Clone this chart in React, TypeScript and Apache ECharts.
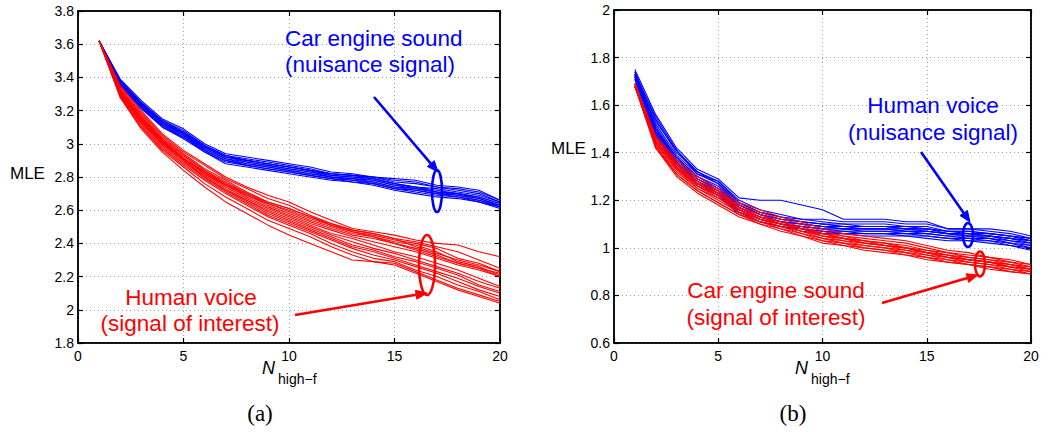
import React, { useEffect, useRef } from "react";
import * as echarts from "echarts";

// x values (N_high-f)
const N = [1, 2, 3, 4, 5, 6, 7, 8, 9, 10, 11, 12, 13, 14, 15, 16, 17, 18, 19, 20];

// Panel (a): car engine sound (nuisance) - blue
const blueA: number[][] = [
  [3.62, 3.39, 3.26, 3.15, 3.09, 3.0, 2.94, 2.92, 2.9, 2.88, 2.86, 2.83, 2.82, 2.8, 2.78, 2.77, 2.74, 2.73, 2.71, 2.66],
  [3.62, 3.38, 3.25, 3.14, 3.08, 2.99, 2.93, 2.91, 2.89, 2.87, 2.85, 2.82, 2.81, 2.8, 2.77, 2.76, 2.74, 2.72, 2.7, 2.65],
  [3.62, 3.38, 3.25, 3.14, 3.07, 2.99, 2.93, 2.9, 2.88, 2.86, 2.84, 2.82, 2.81, 2.79, 2.76, 2.74, 2.73, 2.71, 2.69, 2.65],
  [3.62, 3.37, 3.24, 3.13, 3.07, 2.98, 2.92, 2.9, 2.88, 2.86, 2.84, 2.81, 2.8, 2.79, 2.76, 2.74, 2.72, 2.7, 2.68, 2.64],
  [3.62, 3.37, 3.24, 3.13, 3.06, 2.98, 2.92, 2.89, 2.87, 2.85, 2.83, 2.81, 2.8, 2.78, 2.75, 2.74, 2.71, 2.7, 2.68, 2.64],
  [3.62, 3.37, 3.23, 3.12, 3.06, 2.97, 2.91, 2.89, 2.87, 2.85, 2.83, 2.8, 2.79, 2.78, 2.75, 2.73, 2.71, 2.7, 2.67, 2.63],
  [3.62, 3.36, 3.23, 3.12, 3.05, 2.97, 2.91, 2.88, 2.86, 2.84, 2.82, 2.8, 2.79, 2.77, 2.74, 2.73, 2.71, 2.69, 2.67, 2.63],
  [3.62, 3.36, 3.23, 3.11, 3.05, 2.96, 2.9, 2.88, 2.86, 2.84, 2.82, 2.8, 2.78, 2.77, 2.74, 2.72, 2.7, 2.69, 2.66, 2.63],
  [3.62, 3.36, 3.22, 3.11, 3.04, 2.96, 2.9, 2.87, 2.85, 2.83, 2.81, 2.79, 2.78, 2.76, 2.73, 2.72, 2.7, 2.68, 2.66, 2.62],
  [3.62, 3.35, 3.22, 3.1, 3.04, 2.95, 2.89, 2.87, 2.85, 2.83, 2.81, 2.79, 2.77, 2.76, 2.73, 2.71, 2.69, 2.68, 2.65, 2.62],
  [3.62, 3.35, 3.21, 3.1, 3.03, 2.95, 2.88, 2.86, 2.84, 2.82, 2.8, 2.78, 2.77, 2.75, 2.72, 2.7, 2.68, 2.67, 2.65, 2.61],
  [3.62, 3.37, 3.24, 3.13, 3.06, 2.98, 2.92, 2.9, 2.88, 2.86, 2.84, 2.82, 2.81, 2.8, 2.79, 2.78, 2.75, 2.74, 2.72, 2.66],
];

// Panel (a): human voice (signal of interest) - red
const redA: number[][] = [
  [3.62, 3.35, 3.2, 3.06, 2.96, 2.88, 2.8, 2.74, 2.69, 2.65, 2.59, 2.54, 2.49, 2.47, 2.45, 2.42, 2.4, 2.39, 2.35, 2.32],
  [3.62, 3.34, 3.19, 3.05, 2.95, 2.87, 2.79, 2.73, 2.67, 2.63, 2.57, 2.52, 2.48, 2.46, 2.43, 2.41, 2.38, 2.35, 2.3, 2.25],
  [3.62, 3.33, 3.18, 3.04, 2.94, 2.85, 2.78, 2.71, 2.65, 2.61, 2.56, 2.51, 2.47, 2.45, 2.42, 2.4, 2.37, 2.31, 2.28, 2.23],
  [3.62, 3.33, 3.17, 3.03, 2.93, 2.84, 2.77, 2.7, 2.64, 2.59, 2.54, 2.5, 2.46, 2.44, 2.41, 2.39, 2.35, 2.29, 2.26, 2.21],
  [3.62, 3.32, 3.16, 3.03, 2.93, 2.84, 2.76, 2.69, 2.63, 2.58, 2.53, 2.49, 2.45, 2.43, 2.4, 2.37, 2.33, 2.28, 2.25, 2.2],
  [3.62, 3.32, 3.16, 3.02, 2.92, 2.83, 2.75, 2.68, 2.62, 2.57, 2.52, 2.48, 2.44, 2.41, 2.38, 2.35, 2.31, 2.27, 2.24, 2.2],
  [3.62, 3.31, 3.15, 3.01, 2.91, 2.82, 2.74, 2.67, 2.61, 2.56, 2.51, 2.46, 2.43, 2.39, 2.35, 2.32, 2.28, 2.24, 2.19, 2.14],
  [3.62, 3.31, 3.14, 3.0, 2.9, 2.81, 2.73, 2.66, 2.6, 2.55, 2.5, 2.45, 2.41, 2.37, 2.34, 2.3, 2.26, 2.22, 2.17, 2.13],
  [3.62, 3.3, 3.13, 3.0, 2.9, 2.8, 2.72, 2.66, 2.59, 2.54, 2.49, 2.44, 2.39, 2.36, 2.32, 2.29, 2.25, 2.21, 2.15, 2.11],
  [3.62, 3.3, 3.13, 2.99, 2.89, 2.8, 2.72, 2.65, 2.58, 2.53, 2.48, 2.43, 2.38, 2.35, 2.31, 2.27, 2.23, 2.19, 2.14, 2.1],
  [3.62, 3.29, 3.12, 2.98, 2.88, 2.79, 2.71, 2.64, 2.57, 2.52, 2.47, 2.42, 2.37, 2.33, 2.3, 2.26, 2.22, 2.17, 2.12, 2.08],
  [3.62, 3.29, 3.11, 2.97, 2.87, 2.78, 2.7, 2.63, 2.56, 2.51, 2.46, 2.4, 2.35, 2.31, 2.29, 2.24, 2.2, 2.15, 2.11, 2.06],
  [3.62, 3.28, 3.1, 2.96, 2.86, 2.76, 2.68, 2.61, 2.54, 2.49, 2.44, 2.38, 2.33, 2.29, 2.27, 2.22, 2.17, 2.12, 2.08, 2.04],
  [3.62, 3.28, 3.09, 2.95, 2.84, 2.74, 2.65, 2.58, 2.51, 2.45, 2.4, 2.35, 2.3, 2.29, 2.28, 2.23, 2.18, 2.13, 2.09, 2.05],
  [3.62, 3.3, 3.14, 3.01, 2.91, 2.82, 2.75, 2.69, 2.64, 2.6, 2.55, 2.51, 2.47, 2.44, 2.4, 2.36, 2.32, 2.28, 2.25, 2.22],
  [3.62, 3.31, 3.15, 3.02, 2.91, 2.83, 2.76, 2.7, 2.65, 2.61, 2.56, 2.52, 2.48, 2.46, 2.43, 2.38, 2.34, 2.3, 2.27, 2.23],
];

// Panel (b): human voice (nuisance) - blue
const blueB: number[][] = [
  [1.75, 1.56, 1.42, 1.33, 1.29, 1.21, 1.2, 1.2, 1.18, 1.16, 1.12, 1.12, 1.12, 1.11, 1.11, 1.08, 1.08, 1.08, 1.07, 1.05],
  [1.74, 1.54, 1.4, 1.32, 1.28, 1.2, 1.16, 1.14, 1.12, 1.12, 1.11, 1.11, 1.11, 1.1, 1.1, 1.08, 1.08, 1.07, 1.06, 1.04],
  [1.74, 1.52, 1.39, 1.31, 1.27, 1.19, 1.15, 1.13, 1.12, 1.11, 1.1, 1.1, 1.1, 1.09, 1.09, 1.07, 1.07, 1.06, 1.05, 1.04],
  [1.73, 1.51, 1.38, 1.3, 1.26, 1.18, 1.14, 1.12, 1.11, 1.1, 1.1, 1.09, 1.09, 1.09, 1.08, 1.07, 1.06, 1.06, 1.05, 1.03],
  [1.73, 1.5, 1.38, 1.3, 1.25, 1.18, 1.14, 1.12, 1.11, 1.1, 1.09, 1.09, 1.09, 1.08, 1.08, 1.06, 1.06, 1.05, 1.04, 1.03],
  [1.73, 1.5, 1.37, 1.29, 1.25, 1.17, 1.13, 1.11, 1.1, 1.09, 1.09, 1.08, 1.08, 1.08, 1.07, 1.06, 1.06, 1.05, 1.04, 1.02],
  [1.72, 1.49, 1.37, 1.29, 1.24, 1.17, 1.13, 1.11, 1.1, 1.09, 1.08, 1.08, 1.08, 1.07, 1.07, 1.06, 1.05, 1.05, 1.03, 1.02],
  [1.72, 1.49, 1.36, 1.28, 1.24, 1.16, 1.12, 1.1, 1.09, 1.08, 1.08, 1.07, 1.07, 1.07, 1.06, 1.05, 1.05, 1.04, 1.03, 1.01],
  [1.72, 1.48, 1.36, 1.28, 1.23, 1.16, 1.12, 1.1, 1.09, 1.08, 1.07, 1.07, 1.07, 1.06, 1.06, 1.05, 1.04, 1.04, 1.02, 1.01],
  [1.72, 1.48, 1.35, 1.27, 1.23, 1.15, 1.12, 1.1, 1.08, 1.07, 1.07, 1.06, 1.06, 1.06, 1.05, 1.04, 1.04, 1.03, 1.02, 1.0],
  [1.71, 1.47, 1.35, 1.27, 1.22, 1.15, 1.11, 1.09, 1.08, 1.07, 1.06, 1.06, 1.06, 1.05, 1.05, 1.04, 1.03, 1.03, 1.01, 1.0],
  [1.71, 1.47, 1.34, 1.26, 1.22, 1.14, 1.11, 1.09, 1.07, 1.06, 1.06, 1.05, 1.05, 1.05, 1.04, 1.03, 1.03, 1.02, 1.01, 0.99],
  [1.72, 1.53, 1.41, 1.31, 1.28, 1.19, 1.15, 1.13, 1.11, 1.1, 1.09, 1.09, 1.09, 1.08, 1.08, 1.07, 1.07, 1.06, 1.05, 1.03],
  [1.73, 1.55, 1.41, 1.32, 1.27, 1.18, 1.14, 1.11, 1.1, 1.09, 1.08, 1.08, 1.08, 1.07, 1.07, 1.06, 1.05, 1.05, 1.04, 1.03],
];

// Panel (b): car engine sound (signal of interest) - red
const redB: number[][] = [
  [1.69, 1.47, 1.37, 1.3, 1.25, 1.19, 1.16, 1.13, 1.11, 1.08, 1.06, 1.05, 1.04, 1.03, 1.01, 0.99, 0.98, 0.96, 0.95, 0.93],
  [1.69, 1.46, 1.36, 1.29, 1.24, 1.18, 1.15, 1.12, 1.1, 1.07, 1.05, 1.04, 1.03, 1.02, 1.0, 0.98, 0.97, 0.96, 0.94, 0.93],
  [1.69, 1.46, 1.35, 1.28, 1.23, 1.17, 1.14, 1.11, 1.09, 1.06, 1.05, 1.03, 1.02, 1.01, 0.99, 0.98, 0.96, 0.95, 0.94, 0.92],
  [1.69, 1.45, 1.35, 1.27, 1.23, 1.17, 1.13, 1.11, 1.08, 1.06, 1.04, 1.03, 1.02, 1.0, 0.99, 0.97, 0.96, 0.95, 0.93, 0.92],
  [1.68, 1.45, 1.34, 1.27, 1.22, 1.16, 1.13, 1.1, 1.08, 1.05, 1.04, 1.02, 1.01, 1.0, 0.98, 0.97, 0.95, 0.94, 0.93, 0.91],
  [1.68, 1.44, 1.33, 1.26, 1.21, 1.16, 1.12, 1.1, 1.07, 1.05, 1.03, 1.02, 1.01, 0.99, 0.98, 0.96, 0.95, 0.94, 0.92, 0.91],
  [1.68, 1.44, 1.33, 1.25, 1.21, 1.15, 1.12, 1.09, 1.07, 1.04, 1.03, 1.01, 1.0, 0.99, 0.97, 0.96, 0.94, 0.93, 0.92, 0.9],
  [1.68, 1.43, 1.32, 1.25, 1.2, 1.15, 1.11, 1.09, 1.06, 1.04, 1.02, 1.01, 1.0, 0.98, 0.97, 0.95, 0.94, 0.93, 0.91, 0.9],
  [1.68, 1.43, 1.31, 1.24, 1.19, 1.14, 1.11, 1.08, 1.06, 1.03, 1.02, 1.0, 0.99, 0.98, 0.96, 0.95, 0.93, 0.92, 0.91, 0.89],
  [1.68, 1.42, 1.31, 1.24, 1.19, 1.14, 1.1, 1.08, 1.05, 1.03, 1.01, 1.0, 0.99, 0.97, 0.96, 0.94, 0.93, 0.92, 0.9, 0.89],
  [1.68, 1.42, 1.3, 1.23, 1.18, 1.13, 1.1, 1.07, 1.05, 1.02, 1.01, 0.99, 0.98, 0.97, 0.95, 0.94, 0.93, 0.91, 0.9, 0.89],
  [1.69, 1.45, 1.34, 1.26, 1.22, 1.16, 1.12, 1.1, 1.08, 1.05, 1.04, 1.02, 1.01, 1.0, 0.98, 0.96, 0.95, 0.94, 0.93, 0.91],
  [1.69, 1.44, 1.33, 1.27, 1.24, 1.17, 1.13, 1.1, 1.08, 1.06, 1.04, 1.03, 1.01, 1.0, 0.98, 0.97, 0.95, 0.94, 0.92, 0.91],
];

const X_TICKS = { min: 0, max: 20, interval: 5 };
const Y_A = { min: 1.8, max: 3.8, interval: 0.2 };
const Y_B = { min: 0.6, max: 2.0, interval: 0.2 };

const BLUE = "#0000ff";
const RED = "#ff0000";
const SANS = "'Liberation Sans', Arial, Helvetica, sans-serif";
const SERIF = "'Liberation Serif', 'Times New Roman', serif";

function fmt(v: number) {
  return String(Math.round(v * 10) / 10);
}

function xAxes(grid: number) {
  const common = {
    gridIndex: grid,
    type: "value" as const,
    ...X_TICKS,
    axisLine: { show: true, onZero: false, lineStyle: { color: "#000", width: 1.5 } },
    axisTick: { show: true, inside: true, length: 5, lineStyle: { color: "#000", width: 1.2 } },
  };
  return [
    {
      ...common,
      position: "bottom",
      axisLabel: { color: "#000", fontSize: 14, fontFamily: SANS, margin: 6, formatter: fmt },
      splitLine: { show: true, lineStyle: { color: "#a0a0a0", type: [1, 3], width: 1 } },
    },
    { ...common, position: "top", axisLabel: { show: false }, splitLine: { show: false } },
  ];
}

function yAxes(grid: number, range: { min: number; max: number; interval: number }) {
  const common = {
    gridIndex: grid,
    type: "value" as const,
    ...range,
    axisLine: { show: true, onZero: false, lineStyle: { color: "#000", width: 1.5 } },
    axisTick: { show: true, inside: true, length: 5, lineStyle: { color: "#000", width: 1.2 } },
  };
  return [
    {
      ...common,
      position: "left",
      axisLabel: { color: "#000", fontSize: 14, fontFamily: SANS, margin: 4, formatter: fmt },
      splitLine: { show: true, lineStyle: { color: "#a0a0a0", type: [1, 3], width: 1 } },
    },
    { ...common, position: "right", axisLabel: { show: false }, splitLine: { show: false } },
  ];
}

function lines(curves: number[][], color: string, axisIdx: number) {
  return curves.map((c) => ({
    type: "line",
    xAxisIndex: axisIdx,
    yAxisIndex: axisIdx,
    data: N.map((n, i) => [n, c[i]]),
    symbol: "none",
    silent: true,
    lineStyle: { width: 1.1, color },
    z: 2,
  }));
}

function txt(x: number, y: number, text: string, color: string, size: number, align = "left", extra: any = {}) {
  return {
    type: "text",
    x,
    y,
    z: 100,
    silent: true,
    style: {
      text,
      fill: color,
      fontSize: size,
      fontFamily: SANS,
      align,
      textAlign: align,
      verticalAlign: "middle",
      textVerticalAlign: "middle",
      ...extra,
    },
  };
}

function arrow(x1: number, y1: number, x2: number, y2: number, color: string) {
  const dx = x2 - x1;
  const dy = y2 - y1;
  const len = Math.hypot(dx, dy);
  const ux = dx / len;
  const uy = dy / len;
  const hl = 11;
  const hw = 4.5;
  const bx = x2 - ux * hl;
  const by = y2 - uy * hl;
  return [
    {
      type: "line",
      z: 100,
      silent: true,
      shape: { x1, y1, x2: bx, y2: by },
      style: { stroke: color, lineWidth: 2.6 },
    },
    {
      type: "polygon",
      z: 100,
      silent: true,
      shape: {
        points: [
          [x2, y2],
          [bx - uy * hw, by + ux * hw],
          [bx + uy * hw, by - ux * hw],
        ],
      },
      style: { fill: color, stroke: color, lineWidth: 1 },
    },
  ];
}

function ellipse(cx: number, cy: number, rx: number, ry: number, color: string) {
  return {
    type: "ellipse",
    z: 100,
    silent: true,
    shape: { cx, cy, rx, ry },
    style: { fill: "none", stroke: color, lineWidth: 2.6 },
  };
}

export default function App() {
  const ref = useRef<HTMLDivElement>(null);
  useEffect(() => {
    if (!ref.current) return;
    const chart = echarts.init(ref.current, undefined, { renderer: "svg" });
    const option: any = {
      animation: false,
      backgroundColor: "#fff",
      textStyle: { fontFamily: SANS },
      grid: [
        { left: 78, top: 11, width: 422, height: 332, show: true, borderColor: "#000", borderWidth: 1.5, backgroundColor: "transparent" },
        { left: 614, top: 10, width: 417, height: 333, show: true, borderColor: "#000", borderWidth: 1.5, backgroundColor: "transparent" },
      ],
      xAxis: [...xAxes(0), ...xAxes(1)],
      yAxis: [...yAxes(0, Y_A), ...yAxes(1, Y_B)],
      series: [
        ...lines(blueA, BLUE, 0),
        ...lines(redA, RED, 0),
        ...lines(blueB, BLUE, 2),
        ...lines(redB, RED, 2),
      ],
      graphic: [
        // axis titles (a)
        txt(10, 173, "MLE", "#000", 17),
        txt(262, 368, "N", "#000", 18, "left", { fontStyle: "italic" }),
        txt(278, 379, "high\u2212f", "#000", 14),
        txt(260, 413, "(a)", "#000", 23, "center", { fontFamily: SERIF }),
        // axis titles (b)
        txt(551, 148, "MLE", "#000", 17),
        txt(795, 368, "N", "#000", 18, "left", { fontStyle: "italic" }),
        txt(811, 379, "high\u2212f", "#000", 14),
        txt(793, 413, "(b)", "#000", 23, "center", { fontFamily: SERIF }),
        // annotations (a)
        txt(285, 38, "Car engine sound", BLUE, 22.5),
        txt(285, 64, "(nuisance signal)", BLUE, 22.5),
        ...arrow(374, 97, 438, 172, BLUE),
        ellipse(437, 191, 5, 21, BLUE),
        txt(191, 297, "Human voice", RED, 22.5, "center"),
        txt(190, 323, "(signal of interest)", RED, 22.5, "center"),
        ...arrow(295, 315, 427, 293, RED),
        ellipse(427, 265, 8, 30, RED),
        // annotations (b)
        txt(933, 105, "Human voice", BLUE, 22.5, "center"),
        txt(933, 132, "(nuisance signal)", BLUE, 22.5, "center"),
        ...arrow(921, 152, 970, 222, BLUE),
        ellipse(968, 235, 5, 12, BLUE),
        txt(776, 290, "Car engine sound", RED, 22.5, "center"),
        txt(776, 317, "(signal of interest)", RED, 22.5, "center"),
        ...arrow(882, 303, 978, 275, RED),
        ellipse(980, 264, 5, 12.5, RED),
      ],
    };
    chart.setOption(option);
    return () => chart.dispose();
  }, []);
  return (
    <div
      ref={ref}
      style={{ position: "fixed", left: 0, top: 0, width: 1049, height: 432, background: "#fff" }}
    />
  );
}
